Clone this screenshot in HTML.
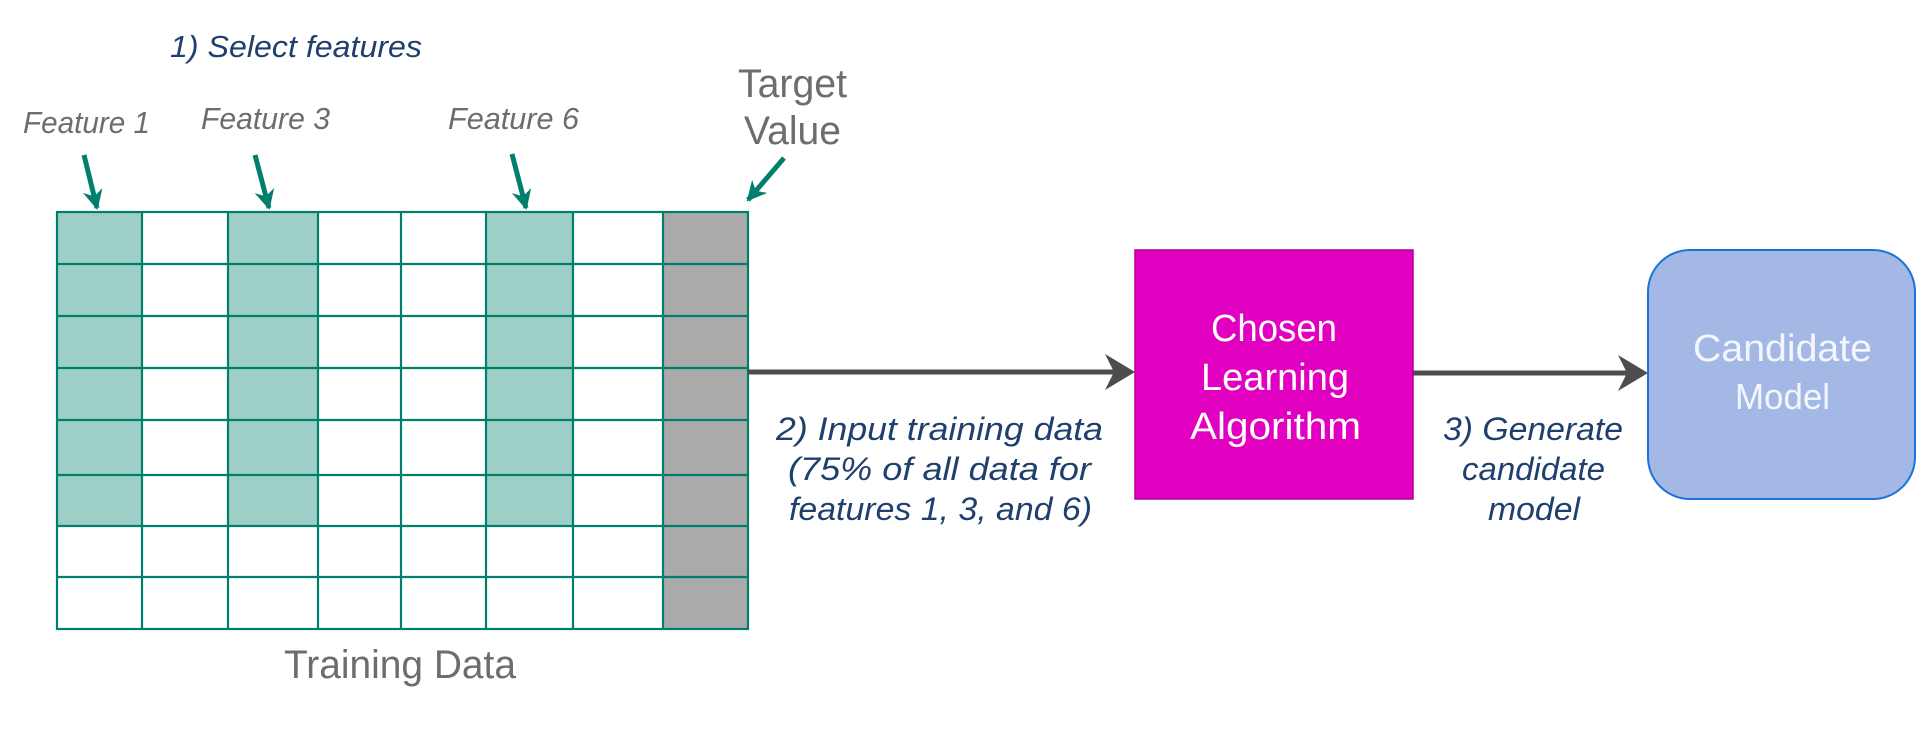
<!DOCTYPE html>
<html><head><meta charset="utf-8"><style>
html,body{margin:0;padding:0;background:#fff;}
svg{display:block;}
text{font-family:"Liberation Sans",sans-serif;}
</style></head><body>
<svg width="1931" height="739" viewBox="0 0 1931 739" xmlns="http://www.w3.org/2000/svg">
<defs>
<marker id="ta" viewBox="0 0 10 10" refX="9" refY="5" markerWidth="20" markerHeight="20" markerUnits="userSpaceOnUse" orient="auto"><path d="M0,0 L10,5 L0,10 L3,5 z" fill="#007f6e"/></marker>
</defs>
<rect x="57" y="212" width="85" height="314" fill="#9ecfc6"/>
<rect x="228" y="212" width="90" height="314" fill="#9ecfc6"/>
<rect x="486" y="212" width="87" height="314" fill="#9ecfc6"/>
<rect x="663" y="212" width="85" height="417" fill="#aaaaaa"/>
<g stroke="#007f6e" stroke-width="2.2" fill="none">
<rect x="57" y="212" width="691" height="417"/>
<line x1="142" y1="212" x2="142" y2="629"/><line x1="228" y1="212" x2="228" y2="629"/>
<line x1="318" y1="212" x2="318" y2="629"/><line x1="401" y1="212" x2="401" y2="629"/>
<line x1="486" y1="212" x2="486" y2="629"/><line x1="573" y1="212" x2="573" y2="629"/>
<line x1="663" y1="212" x2="663" y2="629"/>
<line x1="57" y1="264" x2="748" y2="264"/><line x1="57" y1="316" x2="748" y2="316"/>
<line x1="57" y1="368" x2="748" y2="368"/><line x1="57" y1="420" x2="748" y2="420"/>
<line x1="57" y1="475" x2="748" y2="475"/><line x1="57" y1="526" x2="748" y2="526"/>
<line x1="57" y1="577" x2="748" y2="577"/>
</g>
<g stroke="#007f6e" stroke-width="5" marker-end="url(#ta)">
<line x1="84" y1="155" x2="97" y2="208"/>
<line x1="255" y1="155" x2="269" y2="208"/>
<line x1="512" y1="154" x2="526" y2="208"/>
<line x1="784" y1="158" x2="748" y2="200"/>
</g>
<text x="170" y="57" font-size="31" font-style="italic" fill="#1f3f6e" textLength="252" lengthAdjust="spacingAndGlyphs">1) Select features</text>
<text x="23" y="133" font-size="31" font-style="italic" fill="#6d6d6d" textLength="127" lengthAdjust="spacingAndGlyphs">Feature 1</text>
<text x="201" y="129" font-size="31" font-style="italic" fill="#6d6d6d" textLength="129" lengthAdjust="spacingAndGlyphs">Feature 3</text>
<text x="448" y="129" font-size="31" font-style="italic" fill="#6d6d6d" textLength="131" lengthAdjust="spacingAndGlyphs">Feature 6</text>
<text x="738" y="97" font-size="40" fill="#6d6d6d" textLength="109" lengthAdjust="spacingAndGlyphs">Target</text>
<text x="744" y="144" font-size="40" fill="#6d6d6d" textLength="97" lengthAdjust="spacingAndGlyphs">Value</text>
<text x="284" y="678" font-size="40" fill="#6d6d6d" textLength="232" lengthAdjust="spacingAndGlyphs">Training Data</text>
<g stroke="#4d4d4d" stroke-width="5">
<line x1="748" y1="372" x2="1120" y2="372"/>
<line x1="1413" y1="373" x2="1635" y2="373"/>
</g>
<path d="M1135,372 L1105,354 L1114,372 L1105,390 z" fill="#4d4d4d"/>
<path d="M1648,373 L1618,355 L1627,373 L1618,391 z" fill="#4d4d4d"/>
<rect x="1135" y="250" width="278" height="249" fill="#e100bf" stroke="#b0009a" stroke-width="1.5"/>
<g font-size="38" fill="#ffffff">
<text x="1211" y="341" textLength="126" lengthAdjust="spacingAndGlyphs">Chosen</text>
<text x="1201" y="390" textLength="148" lengthAdjust="spacingAndGlyphs">Learning</text>
<text x="1190" y="439" textLength="171" lengthAdjust="spacingAndGlyphs">Algorithm</text>
</g>
<rect x="1648" y="250" width="267" height="249" rx="42" fill="#a3b8e4" stroke="#1a73d9" stroke-width="2"/>
<g fill="#f4f6ff">
<text x="1693" y="361" font-size="38" textLength="179" lengthAdjust="spacingAndGlyphs">Candidate</text>
<text x="1735" y="409" font-size="36" textLength="95" lengthAdjust="spacingAndGlyphs">Model</text>
</g>
<g font-size="32" font-style="italic" fill="#1f3f6e">
<text x="776" y="440" textLength="327" lengthAdjust="spacingAndGlyphs">2) Input training data</text>
<text x="788" y="480" textLength="303" lengthAdjust="spacingAndGlyphs">(75% of all data for</text>
<text x="789" y="520" textLength="303" lengthAdjust="spacingAndGlyphs">features 1, 3, and 6)</text>
<text x="1443" y="440" textLength="180" lengthAdjust="spacingAndGlyphs">3) Generate</text>
<text x="1462" y="480" textLength="143" lengthAdjust="spacingAndGlyphs">candidate</text>
<text x="1488" y="520" textLength="92" lengthAdjust="spacingAndGlyphs">model</text>
</g>
</svg>
</body></html>
